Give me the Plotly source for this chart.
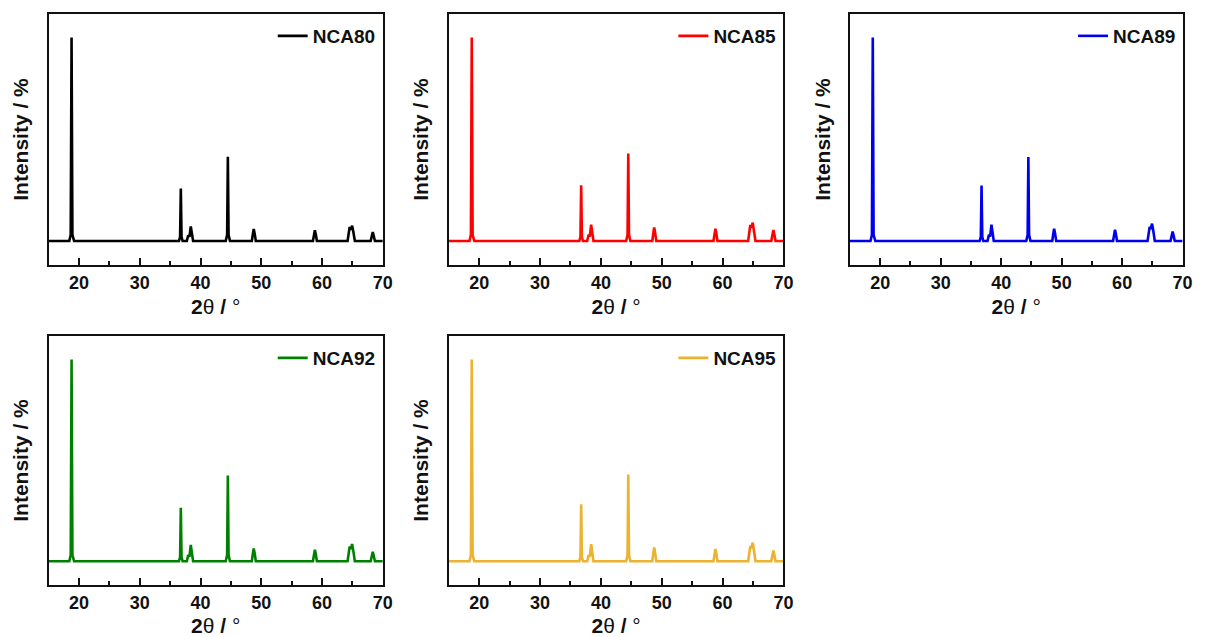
import plotly.graph_objects as go

# Diffraction angle vertices (degrees 2θ) shared by all patterns
two_theta = [15.0,
             18.40, 18.64, 18.78, 18.92, 19.20,
             36.45, 36.64, 36.76, 36.88, 37.05,
             37.75, 37.98, 38.18, 38.40, 38.55, 38.78,
             44.15, 44.38, 44.50, 44.62, 44.85,
             48.45, 48.62, 48.76, 48.92, 49.10,
             58.50, 58.68, 58.82, 58.98, 59.15,
             64.20, 64.40, 64.55, 64.72, 64.95, 65.15, 65.40,
             68.00, 68.20, 68.35, 68.50, 68.70,
             70.0]

# Relative intensities (%) of each sample at the vertices above
nca80 = [0,
         0, 3.0, 100, 3.0, 0,
         0, 2.0, 25.8, 2.0, 0,
         0, 2.8, 2.0, 7.2, 3.5, 0,
         0, 3.0, 41.4, 3.0, 0,
         0, 3.5, 5.9, 3.5, 0,
         0, 3.2, 5.3, 3.2, 0,
         0, 4.5, 6.9, 5.5, 7.5, 4.5, 0,
         0, 2.6, 4.4, 2.6, 0,
         0]
nca85 = [0,
         0, 3.0, 100, 3.0, 0,
         0, 2.0, 27.4, 2.0, 0,
         0, 3.0, 2.2, 8.0, 4.0, 0,
         0, 3.0, 43.0, 3.0, 0,
         0, 4.0, 6.6, 4.0, 0,
         0, 3.6, 6.0, 3.6, 0,
         0, 5.0, 7.9, 6.5, 9.0, 5.0, 0,
         0, 3.2, 5.4, 3.2, 0,
         0]
nca89 = [0,
         0, 3.0, 100, 3.0, 0,
         0, 2.0, 27.3, 2.0, 0,
         0, 3.0, 2.2, 8.0, 4.0, 0,
         0, 3.0, 41.3, 3.0, 0,
         0, 3.6, 6.0, 3.6, 0,
         0, 3.3, 5.5, 3.3, 0,
         0, 4.5, 6.9, 6.0, 8.5, 5.0, 0,
         0, 2.8, 4.6, 2.8, 0,
         0]
nca92 = [0,
         0, 3.0, 100, 3.0, 0,
         0, 2.0, 26.5, 2.0, 0,
         0, 3.0, 2.2, 8.1, 4.0, 0,
         0, 3.0, 42.4, 3.0, 0,
         0, 3.8, 6.3, 3.8, 0,
         0, 3.4, 5.7, 3.4, 0,
         0, 4.8, 7.3, 6.0, 8.5, 5.0, 0,
         0, 2.8, 4.7, 2.8, 0,
         0]
nca95 = [0,
         0, 3.0, 100, 3.0, 0,
         0, 2.0, 28.2, 2.0, 0,
         0, 3.0, 2.2, 8.4, 4.2, 0,
         0, 3.0, 42.9, 3.0, 0,
         0, 4.0, 6.8, 4.0, 0,
         0, 3.6, 6.0, 3.6, 0,
         0, 4.8, 7.4, 6.5, 9.2, 5.5, 0,
         0, 3.2, 5.3, 3.2, 0,
         0]

sample_names = ["NCA80", "NCA85", "NCA89", "NCA92", "NCA95"]
sample_data = [nca80, nca85, nca89, nca92, nca95]
line_colors = ["#000000", "#ff0000", "#0000ee", "#008000", "#ecb232"]

tick_vals = [20, 30, 40, 50, 60, 70]
tick_text = ["20", "30", "40", "50", "60", "70"]

W, H = 1208, 637
FONT = "Arial, 'Liberation Sans', sans-serif"
INK = "#111111"

# panel frames in pixels: (left, right, top, bottom)
col_px = [(49, 386), (452.5, 790), (857, 1192.5)]
row_px = [(14, 265), (336, 585)]
panels = [(0, 0), (0, 1), (0, 2), (1, 0), (1, 1)]
legend_left_px = [275, 679, 1082]

fig = go.Figure()
layout = dict(
    width=W, height=H,
    margin=dict(l=0, r=0, t=0, b=0),
    paper_bgcolor="white", plot_bgcolor="white",
    font=dict(family=FONT, color=INK),
    showlegend=True,
)

for i, (name, ys, color) in enumerate(zip(sample_names, sample_data, line_colors)):
    r, c = panels[i]
    k = "" if i == 0 else str(i + 1)
    leg = "legend" + k
    fig.add_trace(go.Scatter(
        x=two_theta, y=ys, mode="lines", name=name,
        line=dict(color=color, width=2.6),
        xaxis="x" + k, yaxis="y" + k, legend=leg,
    ))
    x0, x1 = col_px[c]
    t, b = row_px[r]
    layout["xaxis" + k] = dict(
        domain=[x0 / W, x1 / W], anchor="y" + k,
        range=[15, 70], tickvals=tick_vals, ticktext=tick_text,
        ticks="inside", ticklen=7, tickwidth=2, tickcolor=INK,
        minor=dict(ticks="inside", ticklen=4, tickwidth=2, tickcolor=INK, dtick=5, tick0=15),
        showline=True, linewidth=2, linecolor=INK, mirror=True,
        showgrid=False, zeroline=False,
        tickfont=dict(size=18, weight="bold", color=INK),
        title=dict(text="<b>2</b>θ<b> / </b>°", font=dict(size=21, color=INK), standoff=8),
    )
    layout["yaxis" + k] = dict(
        domain=[1 - b / H, 1 - t / H], anchor="x" + k,
        range=[-11.8, 111.6],
        showticklabels=False, ticks="",
        showline=True, linewidth=2, linecolor=INK, mirror=True,
        showgrid=False, zeroline=False,
        title=dict(text="Intensity / %", font=dict(size=21, weight="bold", color=INK), standoff=12),
    )
    leg_y = 36 if r == 0 else 358
    layout[leg] = dict(
        x=legend_left_px[c] / W, xanchor="left",
        y=1 - leg_y / H, yanchor="middle",
        bgcolor="rgba(0,0,0,0)", borderwidth=0,
        font=dict(size=19, weight="bold", color=INK),
    )

fig.update_layout(**layout)
fig.write_html("out.html")
